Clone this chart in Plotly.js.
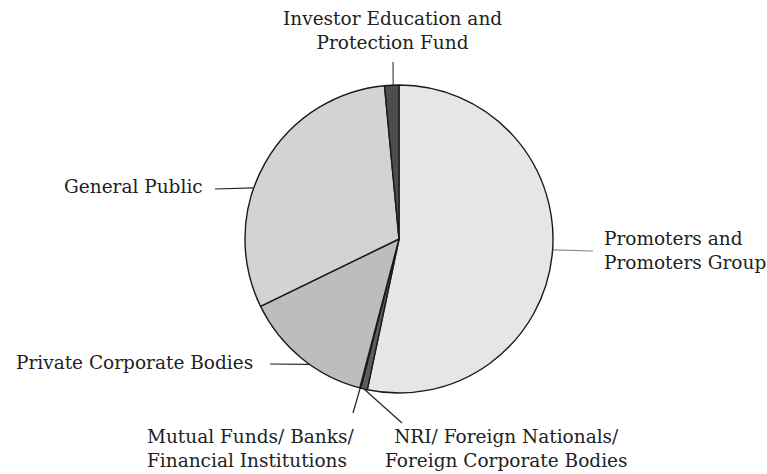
<!DOCTYPE html>
<html><head><meta charset="utf-8">
<script src="https://cdn.plot.ly/plotly-3.0.1.min.js"></script>
<style>html,body{margin:0;padding:0;background:#fff}#chart{width:767px;height:474px}</style>
</head><body><div id="chart"></div>
<script>
// ---- data ----
const categories = [
  "Promoters and Promoters Group",
  "NRI/ Foreign Nationals/ Foreign Corporate Bodies",
  "Mutual Funds/ Banks/ Financial Institutions",
  "Private Corporate Bodies",
  "General Public",
  "Investor Education and Protection Fund"
];
const labelTexts = [
  "Promoters and<br>Promoters Group",
  "NRI/ Foreign Nationals/<br>Foreign Corporate Bodies",
  "Mutual Funds/ Banks/<br>Financial Institutions",
  "Private Corporate Bodies",
  "General Public",
  "Investor Education and<br>Protection Fund"
];
const shares = [53.3, 0.7, 0.1, 13.7, 30.7, 1.5];
const sliceColors = ["#e6e6e6", "#5c5c5c", "#7a7a7a", "#bdbdbf", "#d3d3d3", "#4d4d4d"];

// ---- layout config (pixels) ----
const W = 767, H = 474;
const CX = 399, CY = 239, R = 154;
const labelLayout = [
  {tx: 602, ty: 250, xa: "left",  al: "left",   lx: 593, ly: 251, frac: 0.49, lc: "#888"},
  {tx: 506, ty: 448, xa: "center",al: "center", lx: 402, ly: 423, frac: 0.5,  lc: "#222"},
  {tx: 145, ty: 448, xa: "left",  al: "left",   lx: 353, ly: 413, frac: 0.5,  lc: "#222"},
  {tx: 255, ty: 362, xa: "right", al: "right",  lx: 270, ly: 364, frac: 0.42, lc: "#222"},
  {tx: 205, ty: 187, xa: "right", al: "right",  lx: 215, ly: 189, frac: 0.41, lc: "#222"},
  {tx: 392, ty: 31,  xa: "center",al: "center", lx: 393, ly: 62, frac: 0.6, lc: "#444"}
];
const FONT = {family: "DejaVu Serif", size: 18.5, color: "#222"};

const px = x => x / W;
const py = y => 1 - y / H;

// angles from data
const total = shares.reduce((a, b) => a + b, 0);
let acc = 0;
const shapes = [], annotations = [];
shares.forEach((v, i) => {
  const a0 = acc / total * 360;
  acc += v;
  const a1 = acc / total * 360;
  const L = labelLayout[i];
  const th = (a0 + (a1 - a0) * L.frac) * Math.PI / 180;
  const ex = CX + R * Math.sin(th), ey = CY - R * Math.cos(th);
  shapes.push({type: "line", xref: "paper", yref: "paper",
    x0: px(L.lx), y0: py(L.ly), x1: px(ex), y1: py(ey),
    line: {color: L.lc, width: 1.2}, layer: "below"});
  annotations.push({xref: "paper", yref: "paper", x: px(L.tx), y: py(L.ty),
    xanchor: L.xa, yanchor: "middle", align: L.al, text: labelTexts[i],
    showarrow: false, font: FONT});
});

const trace = {
  type: "pie",
  labels: categories,
  values: shares,
  sort: false,
  direction: "clockwise",
  rotation: 0,
  textinfo: "none",
  hoverinfo: "label+percent",
  marker: {colors: sliceColors, line: {color: "#1a1a1a", width: 1.4}},
  domain: {x: [px(CX - R), px(CX + R)], y: [py(CY + R), py(CY - R)]},
  showlegend: false
};

Plotly.newPlot("chart", [trace], {
  width: W, height: H,
  margin: {l: 0, r: 0, t: 0, b: 0},
  paper_bgcolor: "#fff",
  showlegend: false,
  shapes: shapes,
  annotations: annotations
}, {displayModeBar: false, staticPlot: true});
</script>
</body></html>
